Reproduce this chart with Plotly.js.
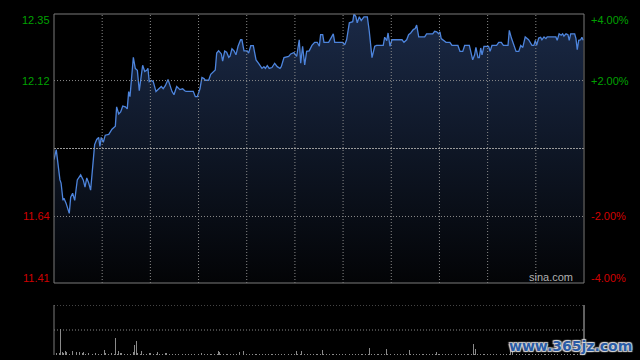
<!DOCTYPE html>
<html><head><meta charset="utf-8">
<script src="https://cdn.plot.ly/plotly-3.0.1.min.js"></script>
<style>html,body{margin:0;padding:0;background:#000;}#chart{width:640px;height:360px;}</style>
</head><body><div id="chart"></div>
<script>
// ---- data ----
const prevClose = 11.88;
const priceLow = 11.405;
const priceHigh = 12.355;
const totalMinutes = 330;
const gridMinutes = [30, 60, 90, 120, 150, 180, 210, 240, 270, 300];
const gridPrices = [11.64, 12.12];
const leftLabels = ['12.35', '12.12', '11.64', '11.41'];
const leftLabelValues = [12.355, 12.12, 11.64, 11.405];
const rightLabels = ['+4.00%', '+2.00%', '-2.00%', '-4.00%'];
const labelColors = ['#00a000', '#00a000', '#d00000', '#d00000'];

const priceTimes = [0,1.4,3.7,4.4,5.6,6.2,7.5,9.5,10.4,11.6,12.9,14.5,16.6,18.2,19.3,20.4,21.6,22.8,24.1,25.3,26.6,27.8,28.6,29.4,30.7,31.9,34.1,36.1,38.2,39.0,40.3,41.5,42.8,44.4,45.6,46.5,47.3,48.1,49.4,50.6,51.9,53.1,54.4,55.2,56.5,57.7,58.5,59.3,60.6,61.8,63.5,65.2,66.8,68.0,69.3,71.0,72.2,73.5,74.7,76.4,78.4,80.1,81.4,82.2,86.7,88.0,89.2,90.9,92.1,93.4,94.2,96.3,97.6,99.2,100.4,101.3,102.5,104.2,105.0,106.3,107.5,108.8,109.6,110.8,112.1,113.3,114.6,116.2,117.0,118.3,120.3,121.2,122.5,124.1,125.8,127.4,129.5,130.7,131.6,132.8,134.0,135.7,137.4,139.0,140.7,141.5,143.2,146.1,147.4,149.4,151.1,152.7,153.6,154.8,156.1,157.3,158.9,160.6,162.3,163.9,165.2,166.0,167.3,168.1,171.0,173.9,174.8,179.7,181.0,182.2,183.9,186.0,186.8,188.0,188.8,190.1,191.3,193.0,195.1,196.3,198.0,199.7,200.9,205.0,205.9,207.2,208.0,209.2,210.4,216.7,217.9,219.6,220.8,222.1,223.7,224.9,225.8,227.1,230.8,232.0,235.8,237.0,238.3,239.5,240.3,241.1,242.8,244.1,246.5,247.8,251.5,252.8,254.5,255.7,258.6,260.7,261.9,262.7,264.0,264.8,265.7,266.5,267.7,270.6,271.5,272.7,275.6,276.9,278.5,279.8,282.7,283.5,284.8,286.0,287.7,289.4,290.6,291.9,293.4,295.5,297.6,298.8,299.7,300.5,301.8,303.0,303.8,305.1,306.3,307.1,312.5,313.3,314.5,315.8,316.7,317.5,318.8,320.0,320.8,321.7,324.2,325.0,325.8,326.7,327.9,328.7,329.5];
const prices = [11.841,11.876,11.769,11.758,11.697,11.704,11.687,11.651,11.708,11.722,11.697,11.769,11.787,11.769,11.744,11.776,11.758,11.733,11.816,11.894,11.912,11.919,11.887,11.919,11.902,11.927,11.930,11.948,11.959,12.027,12.002,12.009,12.030,12.027,12.020,12.081,12.063,12.120,12.202,12.163,12.156,12.084,12.134,12.174,12.152,12.156,12.163,12.116,12.120,12.116,12.081,12.091,12.099,12.091,12.102,12.124,12.099,12.081,12.070,12.099,12.088,12.091,12.084,12.082,12.082,12.063,12.063,12.091,12.131,12.127,12.121,12.121,12.142,12.152,12.157,12.217,12.225,12.214,12.189,12.224,12.220,12.202,12.206,12.232,12.225,12.211,12.241,12.264,12.264,12.225,12.225,12.217,12.243,12.243,12.193,12.181,12.163,12.169,12.163,12.173,12.163,12.166,12.181,12.169,12.163,12.169,12.201,12.205,12.214,12.219,12.205,12.264,12.181,12.241,12.175,12.223,12.225,12.244,12.255,12.255,12.241,12.282,12.282,12.255,12.255,12.285,12.255,12.255,12.246,12.264,12.324,12.328,12.356,12.345,12.324,12.345,12.332,12.345,12.345,12.294,12.201,12.241,12.244,12.244,12.273,12.261,12.288,12.241,12.264,12.264,12.255,12.264,12.282,12.288,12.300,12.304,12.316,12.274,12.274,12.285,12.285,12.294,12.292,12.285,12.292,12.268,12.261,12.255,12.255,12.244,12.244,12.223,12.223,12.244,12.244,12.193,12.211,12.237,12.201,12.201,12.235,12.211,12.241,12.241,12.223,12.244,12.244,12.255,12.255,12.244,12.244,12.297,12.270,12.253,12.223,12.223,12.244,12.237,12.274,12.264,12.244,12.244,12.262,12.244,12.270,12.273,12.264,12.274,12.268,12.274,12.274,12.262,12.285,12.280,12.285,12.277,12.285,12.282,12.262,12.285,12.285,12.268,12.229,12.262,12.264,12.273,12.262];

// small background volume, one value per 2-minute slot
const volSmall = [30,18,22,15,25,12,20,14,28,16,12,18,10,22,14,12,16,11,20,13,10,15,12,9,14,11,18,10,12,9,15,10,13,8,11,16,9,12,10,14,8,11,13,9,12,10,15,8,11,9,13,10,8,12,9,14,10,11,8,12,9,10,13,8,11,9,12,10,8,14,9,11,10,12,8,13,9,10,11,8,12,10,9,13,8,11,10,9,12,8,14,10,9,11,8,12,9,10,13,8,11,9,12,10,8,13,9,11,10,12,8,10,14,9,11,8,12,10,9,13,8,11,10,12,9,8,11,10,13,9,12,8,11,10,9,14,8,12,10,11,9,13,8,10,12,9,11,10,8,13,9,12,10,11,8,14,9,10,12,8,11,10,9,12,8];
const volSpikeTimes = [4,5,7,11,14,18,31,38,40,49,50,51,54,64,102,103,115,118,151,154,167,196,207,221,238,261,262,284,285];
const volSpikes = [265,25,40,35,30,25,50,165,40,25,100,140,40,30,40,30,25,40,40,40,45,70,55,50,30,110,60,80,50];
const volMax = 500;
const volGrid = [250, 500];

// ---- chart ----
const smallTimes = volSmall.map((v, i) => i * 2);

const traces = [
  {
    x: priceTimes, y: prices, type: 'scatter', mode: 'lines',
    line: {color: '#4d84dc', width: 1.3, shape: 'linear'},
    fill: 'tozeroy',
    fillgradient: {type: 'vertical', start: priceLow, stop: priceHigh,
      colorscale: [[0, '#030406'], [1, '#1a2946']]},
    xaxis: 'x', yaxis: 'y', hoverinfo: 'skip'
  },
  {
    x: smallTimes, y: volSmall, type: 'bar', width: 0.7,
    marker: {color: '#8a8a8a', line: {width: 0}},
    xaxis: 'x2', yaxis: 'y2', hoverinfo: 'skip'
  },
  {
    x: volSpikeTimes, y: volSpikes, type: 'bar', width: 0.7,
    marker: {color: '#8a8a8a', line: {width: 0}},
    xaxis: 'x2', yaxis: 'y2', hoverinfo: 'skip'
  }
];

const annotations = [];
leftLabels.forEach((t, i) => {
  const shift = i === 0 ? -6 : (i === leftLabels.length - 1 ? 5 : 0);
  annotations.push({xref: 'paper', yref: 'y', x: 0, y: leftLabelValues[i], text: t,
    xanchor: 'right', yanchor: 'middle', xshift: -2, yshift: shift, showarrow: false,
    font: {family: 'Liberation Sans, Arial', size: 11, color: labelColors[i]}});
  annotations.push({xref: 'paper', yref: 'y', x: 1, y: leftLabelValues[i], text: rightLabels[i],
    xanchor: 'left', yanchor: 'middle', xshift: 5, yshift: shift, showarrow: false,
    font: {family: 'Liberation Sans, Arial', size: 11, color: labelColors[i]}});
});
annotations.push({xref: 'paper', yref: 'y', x: 0.983, y: priceLow, text: 'sina.com',
  xanchor: 'right', yanchor: 'bottom', yshift: -2, showarrow: false,
  font: {family: 'Liberation Sans, Arial', size: 11, color: '#b0b0b0'}});
annotations.push({xref: 'paper', yref: 'paper', x: 1.094, y: 0.0, text: 'www.365jz.com',
  xanchor: 'right', yanchor: 'bottom', yshift: -1, showarrow: false,
  font: {family: 'DejaVu Sans', size: 14, weight: 700, color: '#2a5ca6',
    shadow: '1px 1px 1px #d8d8d8, -1px -1px 1px #d8d8d8, 1px -1px 1px #d8d8d8, -1px 1px 1px #d8d8d8'}});

const gridLine = {color: '#8a8a8a', width: 1, dash: '1px,2px'};
const shapes = [];
gridMinutes.forEach(m => shapes.push({type: 'line', xref: 'x', yref: 'y domain',
  x0: m, x1: m, y0: 0, y1: 1, line: gridLine, layer: 'above'}));
gridPrices.forEach(p => shapes.push({type: 'line', xref: 'x domain', yref: 'y',
  x0: 0, x1: 1, y0: p, y1: p, line: gridLine, layer: 'above'}));
volGrid.forEach(v => shapes.push({type: 'line', xref: 'x2 domain', yref: 'y2',
  x0: 0, x1: 1, y0: v, y1: v, line: gridLine, layer: 'above'}));
shapes.push(
  {type: 'line', xref: 'x domain', yref: 'y', x0: 0, x1: 1, y0: prevClose, y1: prevClose,
    line: {color: '#9a9a9a', width: 1, dash: '2px,1px'}, layer: 'above'},
  {type: 'rect', xref: 'x domain', yref: 'y domain', x0: 0, x1: 1, y0: 0, y1: 1,
    line: {color: '#7a7a7a', width: 1}, layer: 'above'},
  {type: 'line', xref: 'x2 domain', yref: 'y2 domain', x0: 0, x1: 0, y0: 0, y1: 1,
    line: {color: '#7a7a7a', width: 1}, layer: 'above'},
  {type: 'line', xref: 'x2 domain', yref: 'y2 domain', x0: 1, x1: 1, y0: 0, y1: 1,
    line: {color: '#c0c0c0', width: 1}, layer: 'above'}
);

const layout = {
  width: 640, height: 360,
  paper_bgcolor: '#000', plot_bgcolor: '#000',
  margin: {l: 54, r: 56, t: 14, b: 5},
  showlegend: false,
  bargap: 0,
  xaxis: {domain: [0, 1], range: [0, totalMinutes], showticklabels: false,
    showgrid: false, zeroline: false, ticks: '', showline: false, fixedrange: true},
  yaxis: {domain: [0.2111, 1], range: [priceLow, priceHigh], showticklabels: false,
    showgrid: false, zeroline: false, ticks: '', showline: false, fixedrange: true},
  xaxis2: {domain: [0, 1], anchor: 'y2', range: [0, totalMinutes], showticklabels: false,
    showgrid: false, zeroline: false, ticks: '', showline: false},
  yaxis2: {domain: [0, 0.1466], anchor: 'x2', range: [0, volMax], showticklabels: false,
    showgrid: false, zeroline: false, ticks: '', showline: false},
  shapes: shapes,
  annotations: annotations
};

Plotly.newPlot('chart', traces, layout, {staticPlot: true, displayModeBar: false});
</script>
</body></html>
